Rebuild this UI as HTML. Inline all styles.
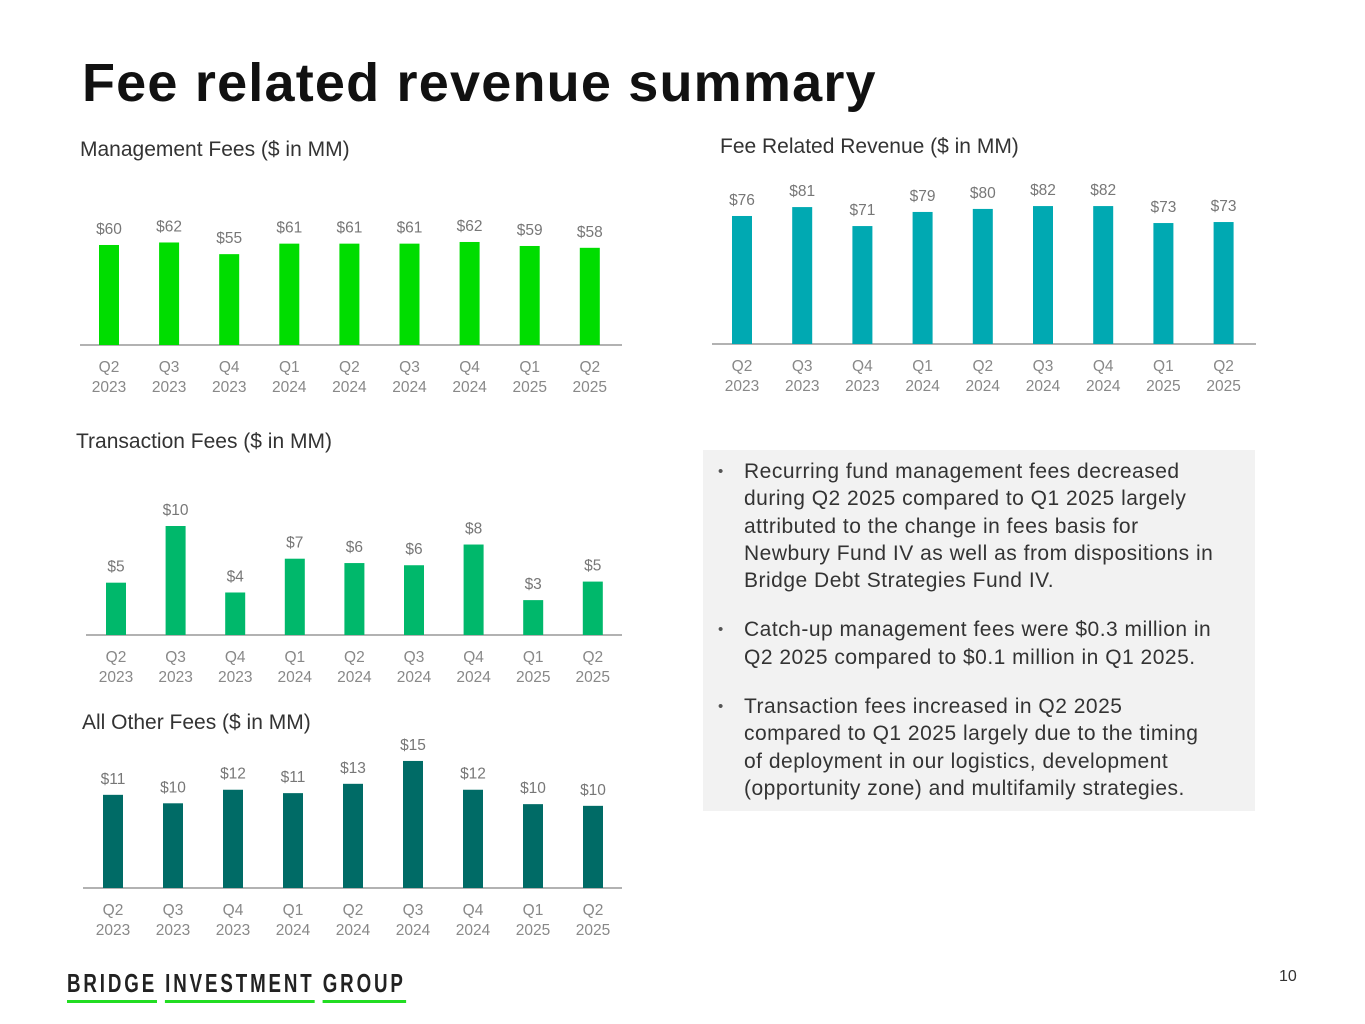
<!DOCTYPE html>
<html><head><meta charset="utf-8"><style>
body{margin:0;width:1365px;height:1024px;background:#fff;font-family:"Liberation Sans",sans-serif;position:relative;overflow:hidden}
.t{position:absolute;white-space:nowrap}
svg{position:absolute;left:0;top:0}
.box{position:absolute;left:703px;top:450px;width:552px;height:361px;background:#f2f2f2}
.box ul{margin:0;padding:8px 0 0 41px;font-size:21px;line-height:27.3px;color:#333;list-style:none;white-space:nowrap;letter-spacing:0.5px}
.box li{position:relative;margin-bottom:22px}
.box li:before{content:"•";position:absolute;left:-26px;font-size:15px;color:#555}
</style></head><body>
<div class="t" style="left:82px;top:52px;font-size:54px;font-weight:bold;color:#111;letter-spacing:1.2px">Fee related revenue summary</div>
<div class="t" style="left:80px;top:138px;font-size:21px;color:#333">Management Fees ($ in MM)</div>
<div class="t" style="left:720px;top:135px;font-size:21px;color:#333">Fee Related Revenue ($ in MM)</div>
<div class="t" style="left:76px;top:430px;font-size:21px;color:#333">Transaction Fees ($ in MM)</div>
<div class="t" style="left:82px;top:711px;font-size:21px;color:#333">All Other Fees ($ in MM)</div>
<div class="box"><ul>
<li>Recurring fund management fees decreased<br>during Q2 2025 compared to Q1 2025 largely<br>attributed to the change in fees basis for<br>Newbury Fund IV as well as from dispositions in<br>Bridge Debt Strategies Fund IV.</li>
<li>Catch-up management fees were $0.3 million in<br>Q2 2025 compared to $0.1 million in Q1 2025.</li>
<li>Transaction fees increased in Q2 2025<br>compared to Q1 2025 largely due to the timing<br>of deployment in our logistics, development<br>(opportunity zone) and multifamily strategies.</li>
</ul></div>
<div class="t" style="left:67px;top:968px;font-size:26px;font-weight:bold;color:#222;letter-spacing:4px;transform:scaleX(0.72);transform-origin:0 0">
<span style="border-bottom:3px solid #22dd22;padding-bottom:2px">BRIDGE</span> <span style="border-bottom:3px solid #22dd22;padding-bottom:2px">INVESTMENT</span> <span style="border-bottom:3px solid #22dd22;padding-bottom:2px">GROUP</span></div>
<div class="t" style="left:1279px;top:968px;font-size:16px;color:#333">10</div>
<svg id="s" width="1365" height="1024"></svg>
<script>
const quarters=["Q2","Q3","Q4","Q1","Q2","Q3","Q4","Q1","Q2"];
const years=["2023","2023","2023","2024","2024","2024","2024","2025","2025"];
const mgmtValues=[60,61.5,54.5,60.8,60.8,60.8,61.8,59.4,58.3];
const mgmtLabels=["$60","$62","$55","$61","$61","$61","$62","$59","$58"];
const frrValues=[76.2,81.5,70.2,78.6,80.4,82.1,82.1,72,72.6];
const frrLabels=["$76","$81","$71","$79","$80","$82","$82","$73","$73"];
const txnValues=[4.8,10,3.9,7.0,6.6,6.4,8.3,3.2,4.9];
const txnLabels=["$5","$10","$4","$7","$6","$6","$8","$3","$5"];
const otherValues=[11,10.0,11.6,11.2,12.3,15,11.6,9.9,9.7];
const otherLabels=["$11","$10","$12","$11","$13","$15","$12","$10","$10"];
const NS="http://www.w3.org/2000/svg";
const s=document.getElementById('s');
function mk(tag,a){const e=document.createElementNS(NS,tag);for(const k in a)e.setAttribute(k,a[k]);s.appendChild(e);return e;}
function chart(name,vals,labs,x0,dx,base,scale,x1,x2,color){
  const ax=mk('line',{x1:x1,x2:x2,y1:base,y2:base,stroke:'#999','stroke-width':1.5});
  
  
  vals.forEach((v,i)=>{
    const cx=x0+dx*i,h=v*scale;
    const r=mk('rect',{x:cx-10,y:base-h,width:20,height:h,fill:color});
    
    
    const t=mk('text',{x:cx,y:base-h-11,'text-anchor':'middle','font-size':15.5,fill:'#777','font-family':'Liberation Sans'});
    t.textContent=labs[i];
    
    
    const q=mk('text',{x:cx,y:base+27,'text-anchor':'middle','font-size':15.5,fill:'#888','font-family':'Liberation Sans'});
    q.textContent=quarters[i];
    
    
    const y=mk('text',{x:cx,y:base+47,'text-anchor':'middle','font-size':15.5,fill:'#888','font-family':'Liberation Sans'});
    y.textContent=years[i];
    
    
  });
}
chart('management-fees',mgmtValues,mgmtLabels,109,60.1,345,1.667,80,622,'#00dd00');
chart('fee-related-revenue',frrValues,frrLabels,742,60.2,344,1.68,712,1256,'#00a9b2');
chart('transaction-fees',txnValues,txnLabels,116,59.6,635,10.9,86,622,'#00b86b');
chart('all-other-fees',otherValues,otherLabels,113,60,888,8.47,83,622,'#006b66');
</script>
</body></html>
